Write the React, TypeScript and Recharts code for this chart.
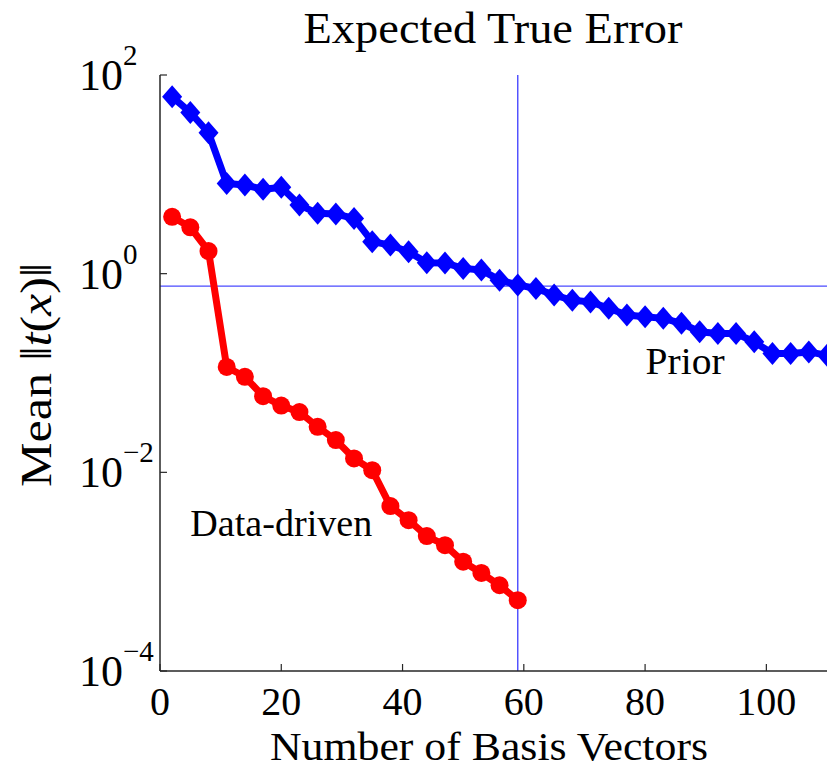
import React from "react";
import { LineChart, Line, XAxis, YAxis, ReferenceLine, ReferenceDot, Label } from "recharts";

const priorX = [2, 5, 8, 11, 14, 17, 20, 23, 26, 29, 32, 35, 38, 41, 44, 47, 50, 53, 56, 59, 62, 65, 68, 71, 74, 77, 80, 83, 86, 89, 92, 95, 98, 101, 104, 107, 110];
const priorY = [60.4, 42, 26.2, 8.1, 7.8, 7.06, 7.4, 4.9, 4.05, 3.98, 3.6, 2.1, 1.94, 1.66, 1.29, 1.28, 1.13, 1.09, 0.86, 0.77, 0.71, 0.61, 0.54, 0.52, 0.448, 0.383, 0.368, 0.355, 0.316, 0.26, 0.25, 0.25, 0.206, 0.157, 0.157, 0.163, 0.151];
const dataX = [2, 5, 8, 11, 14, 17, 20, 23, 26, 29, 32, 35, 38, 41, 44, 47, 50, 53, 56, 59];
const dataY = [3.74, 2.93, 1.69, 0.115, 0.0916, 0.0585, 0.047, 0.0404, 0.0287, 0.0211, 0.0138, 0.0105, 0.00457, 0.0033, 0.00228, 0.00185, 0.00126, 0.00097, 0.00073, 0.000516];

const xTicks = [0, 20, 40, 60, 80, 100];
const yTicks = [1e-4, 1e-2, 1, 100];
const xDomain = [0, 110];
const yDomain = [1e-4, 100];
const cutX = 59;
const cutY = 0.75;
const priorLabelAt = { x: 86.6, y: 0.13 };
const dataLabelAt = { x: 20, y: 0.003 };

const FONT = "'Liberation Serif', 'Times New Roman', serif";
const AX = "#262626";
const TICK = 7;

const priorRows = priorX.map((x, i) => ({ x, v: priorY[i] }));
const dataRows = dataX.map((x, i) => ({ x, v: dataY[i] }));

function Diamond(p: any) {
  const { cx, cy } = p;
  if (cx == null || cy == null) return null;
  return <polygon points={`${cx - 10},${cy} ${cx},${cy - 11.5} ${cx + 10},${cy} ${cx},${cy + 11.5}`} fill="#0000ff" />;
}

function Dot(p: any) {
  const { cx, cy } = p;
  if (cx == null || cy == null) return null;
  return <circle cx={cx} cy={cy} r={9} fill="#ff0000" />;
}

function BottomTick({ x, y, payload }: any) {
  return (
    <g>
      <line x1={x} x2={x} y1={y} y2={y - TICK} stroke={AX} strokeWidth={1.2} />
      <text x={x} y={y + 44} textAnchor="middle" fontFamily={FONT} fontSize={40} fill="#000">{payload.value}</text>
    </g>
  );
}

function TopTick({ x, y }: any) {
  return <line x1={x} x2={x} y1={y} y2={y + TICK} stroke={AX} strokeWidth={1.2} />;
}

function LeftTick({ x, y, payload }: any) {
  const e = Math.round(Math.log10(payload.value));
  const s = e < 0 ? "\u2212" + Math.abs(e) : String(e);
  return (
    <g>
      <line x1={x} x2={x + TICK} y1={y} y2={y} stroke={AX} strokeWidth={1.2} />
      <text x={x - 81} y={y + 15} fontFamily={FONT} fontSize={44} fill="#000">
        10<tspan dy={-25} fontSize={29}>{s}</tspan>
      </text>
    </g>
  );
}

function RightTick({ x, y }: any) {
  return <line x1={x} x2={x - TICK} y1={y} y2={y} stroke={AX} strokeWidth={1.2} />;
}

function TextAt(text: string, len: number) {
  return ({ viewBox }: any) => (
    <text x={viewBox.x} y={viewBox.y + 12} textAnchor="middle" fontFamily={FONT} fontSize={37}
      textLength={len} lengthAdjust="spacingAndGlyphs" fill="#000">{text}</text>
  );
}

export default function App() {
  return (
    <div style={{ position: "absolute", left: 0, top: 0, width: 831, height: 769, background: "#fff" }}>
      <LineChart width={831} height={769} margin={{ top: 75, right: 4, bottom: 0, left: 0 }}>
        <text x={493} y={43} textAnchor="middle" fontFamily={FONT} fontSize={44} textLength={379} lengthAdjust="spacingAndGlyphs" fill="#000">Expected True Error</text>
        <XAxis dataKey="x" type="number" domain={xDomain} ticks={xTicks} allowDataOverflow height={98}
          tickSize={0} tickMargin={0} tickLine={false} tick={<BottomTick />}
          axisLine={{ stroke: AX, strokeWidth: 1.5 }}>
          <Label content={() => (
            <text x={489} y={760} textAnchor="middle" fontFamily={FONT} fontSize={40} textLength={438} lengthAdjust="spacingAndGlyphs" fill="#000">Number of Basis Vectors</text>
          )} />
        </XAxis>
        <XAxis xAxisId="top" orientation="top" type="number" domain={xDomain} ticks={xTicks} height={0}
          tickSize={0} tickMargin={0} tickLine={false} tick={<TopTick />} axisLine={{ stroke: AX, strokeWidth: 1.5 }} />
        <YAxis scale="log" type="number" domain={yDomain} ticks={yTicks} allowDataOverflow width={160}
          tickSize={0} tickMargin={0} tickLine={false} tick={<LeftTick />}
          axisLine={{ stroke: AX, strokeWidth: 1.5 }}>
          <Label content={() => (
            <text x={51} y={375} transform="rotate(-90 51 375)" textAnchor="middle" fontFamily={FONT} fontSize={44}
              textLength={224} lengthAdjust="spacingAndGlyphs" fill="#000">
              Mean  ‖<tspan fontStyle="italic">t</tspan>(<tspan fontStyle="italic">x</tspan>)‖
            </text>
          )} />
        </YAxis>
        <YAxis yAxisId="right" orientation="right" scale="log" type="number" domain={yDomain} ticks={yTicks} width={0}
          tickSize={0} tickMargin={0} tickLine={false} tick={<RightTick />} axisLine={{ stroke: AX, strokeWidth: 1.5 }} />
        <ReferenceLine x={cutX} stroke="#4a4aff" strokeWidth={1.4} />
        <ReferenceLine y={cutY} stroke="#4a4aff" strokeWidth={1.4} />
        <Line data={priorRows} dataKey="v" type="linear" stroke="#0000ff" strokeWidth={7} dot={<Diamond />} activeDot={false} isAnimationActive={false} />
        <Line data={dataRows} dataKey="v" type="linear" stroke="#ff0000" strokeWidth={7} dot={<Dot />} activeDot={false} isAnimationActive={false} />
        <ReferenceDot x={priorLabelAt.x} y={priorLabelAt.y} r={0} label={TextAt("Prior", 79)} />
        <ReferenceDot x={dataLabelAt.x} y={dataLabelAt.y} r={0} label={TextAt("Data-driven", 182)} />
      </LineChart>
    </div>
  );
}
